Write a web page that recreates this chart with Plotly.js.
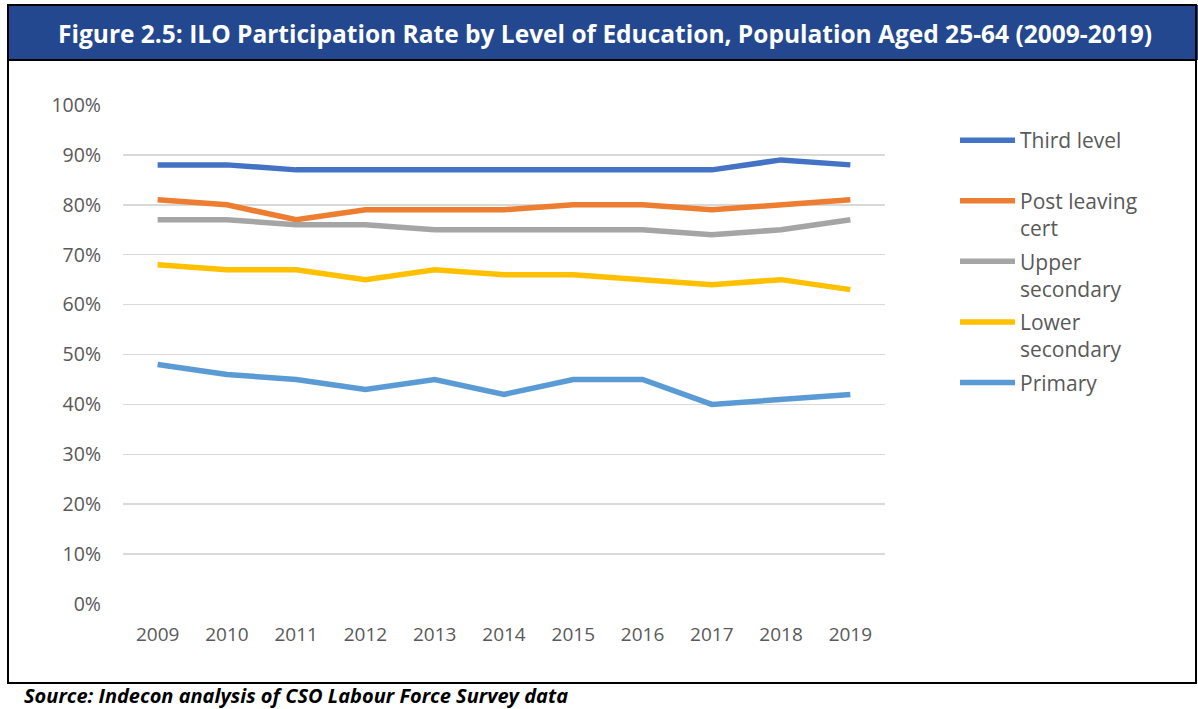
<!DOCTYPE html>
<html>
<head>
<meta charset="utf-8">
<script src="https://cdn.plot.ly/plotly-3.0.1.min.js"></script>
<style>html,body{margin:0;padding:0;background:#fff;}#chart{width:1198px;height:709px;}</style>
</head>
<body>
<div id="chart"></div>
<script>
const years = ['2009','2010','2011','2012','2013','2014','2015','2016','2017','2018','2019'];
const thirdLevel = [88,88,87,87,87,87,87,87,87,89,88];
const postLeavingCert = [81,80,77,79,79,79,80,80,79,80,81];
const upperSecondary = [77,77,76,76,75,75,75,75,74,75,77];
const lowerSecondary = [68,67,67,65,67,66,66,65,64,65,63];
const primary = [48,46,45,43,45,42,45,45,40,41,42];
const seriesNames = ['Third level<br> ', 'Post leaving<br>cert', 'Upper<br>secondary', 'Lower<br>secondary', 'Primary'];
const seriesColors = ['#4472C4', '#ED7D31', '#A5A5A5', '#FFC000', '#5B9BD5'];
const yTickVals = [0,10,20,30,40,50,60,70,80,90,100];
const yTickText = ['0%','10%','20%','30%','40%','50%','60%','70%','80%','90%','100%'];

const allSeries = [thirdLevel, postLeavingCert, upperSecondary, lowerSecondary, primary];
const traces = allSeries.map((vals, i) => ({
  x: years, y: vals, type: 'scatter', mode: 'lines',
  name: seriesNames[i], legendgroup: 'g' + i,
  line: {color: seriesColors[i], width: 5.5}
}));

// pixel helpers for plot area l=123, r=885, t=105, b=604
const px = v => (v - 123) / 762;
const py = v => (604 - v) / 499;

const layout = {
  width: 1198, height: 709,
  margin: {l: 123, r: 313, t: 105, b: 105},
  paper_bgcolor: '#fff', plot_bgcolor: '#fff',
  font: {family: 'Open Sans, sans-serif', color: '#595959', size: 19},
  title: {text: '<b>Figure 2.5: ILO Participation Rate by Level of Education, Population Aged 25-64 (2009-2019)</b>',
    font: {family: 'Open Sans, sans-serif', size: 24.5, color: '#ffffff'},
    x: 605/1198, xanchor: 'center', y: 1 - 34/709, yanchor: 'middle', xref: 'container', yref: 'container'},
  xaxis: {type: 'category', range: [-0.5, 10.5], showgrid: false, zeroline: false, showline: false,
    ticks: '', ticklabelstandoff: 17, tickfont: {size: 19, color: '#595959'}, fixedrange: true},
  yaxis: {range: [0, 100], tickvals: yTickVals, ticktext: yTickText, showgrid: true, gridcolor: '#D9D9D9', gridwidth: 1.5,
    zeroline: false, showline: false, ticks: '', ticklabelstandoff: 21, tickfont: {size: 19.5, color: '#595959'}, fixedrange: true},
  showlegend: true,
  legend: {x: px(955), xanchor: 'left', y: py(120), yanchor: 'top', bgcolor: 'rgba(0,0,0,0)',
    font: {size: 21, color: '#595959'}, valign: 'top', tracegroupgap: 3, itemwidth: 55},
  shapes: [
    {type: 'rect', xref: 'paper', yref: 'paper', x0: px(8), x1: px(1198), y0: py(60), y1: py(5),
      fillcolor: '#23488F', line: {width: 0}, layer: 'below'},
    {type: 'rect', xref: 'paper', yref: 'paper', x0: px(8), x1: px(1196), y0: py(683), y1: py(5),
      fillcolor: 'rgba(0,0,0,0)', line: {width: 2, color: '#000'}},
    {type: 'line', xref: 'paper', yref: 'paper', x0: px(8), x1: px(1196), y0: py(60), y1: py(60),
      line: {width: 2, color: '#000'}}
  ],
  annotations: [
    {xref: 'paper', yref: 'paper', x: px(22), y: py(695), xanchor: 'left', yanchor: 'middle', showarrow: false,
      text: '<b><i>Source: Indecon analysis of CSO Labour Force Survey data</i></b>',
      font: {family: 'Open Sans, sans-serif', size: 20, color: '#000'}}
  ]
};
Plotly.newPlot('chart', traces, layout, {displayModeBar: false, staticPlot: true});
</script>
</body>
</html>
